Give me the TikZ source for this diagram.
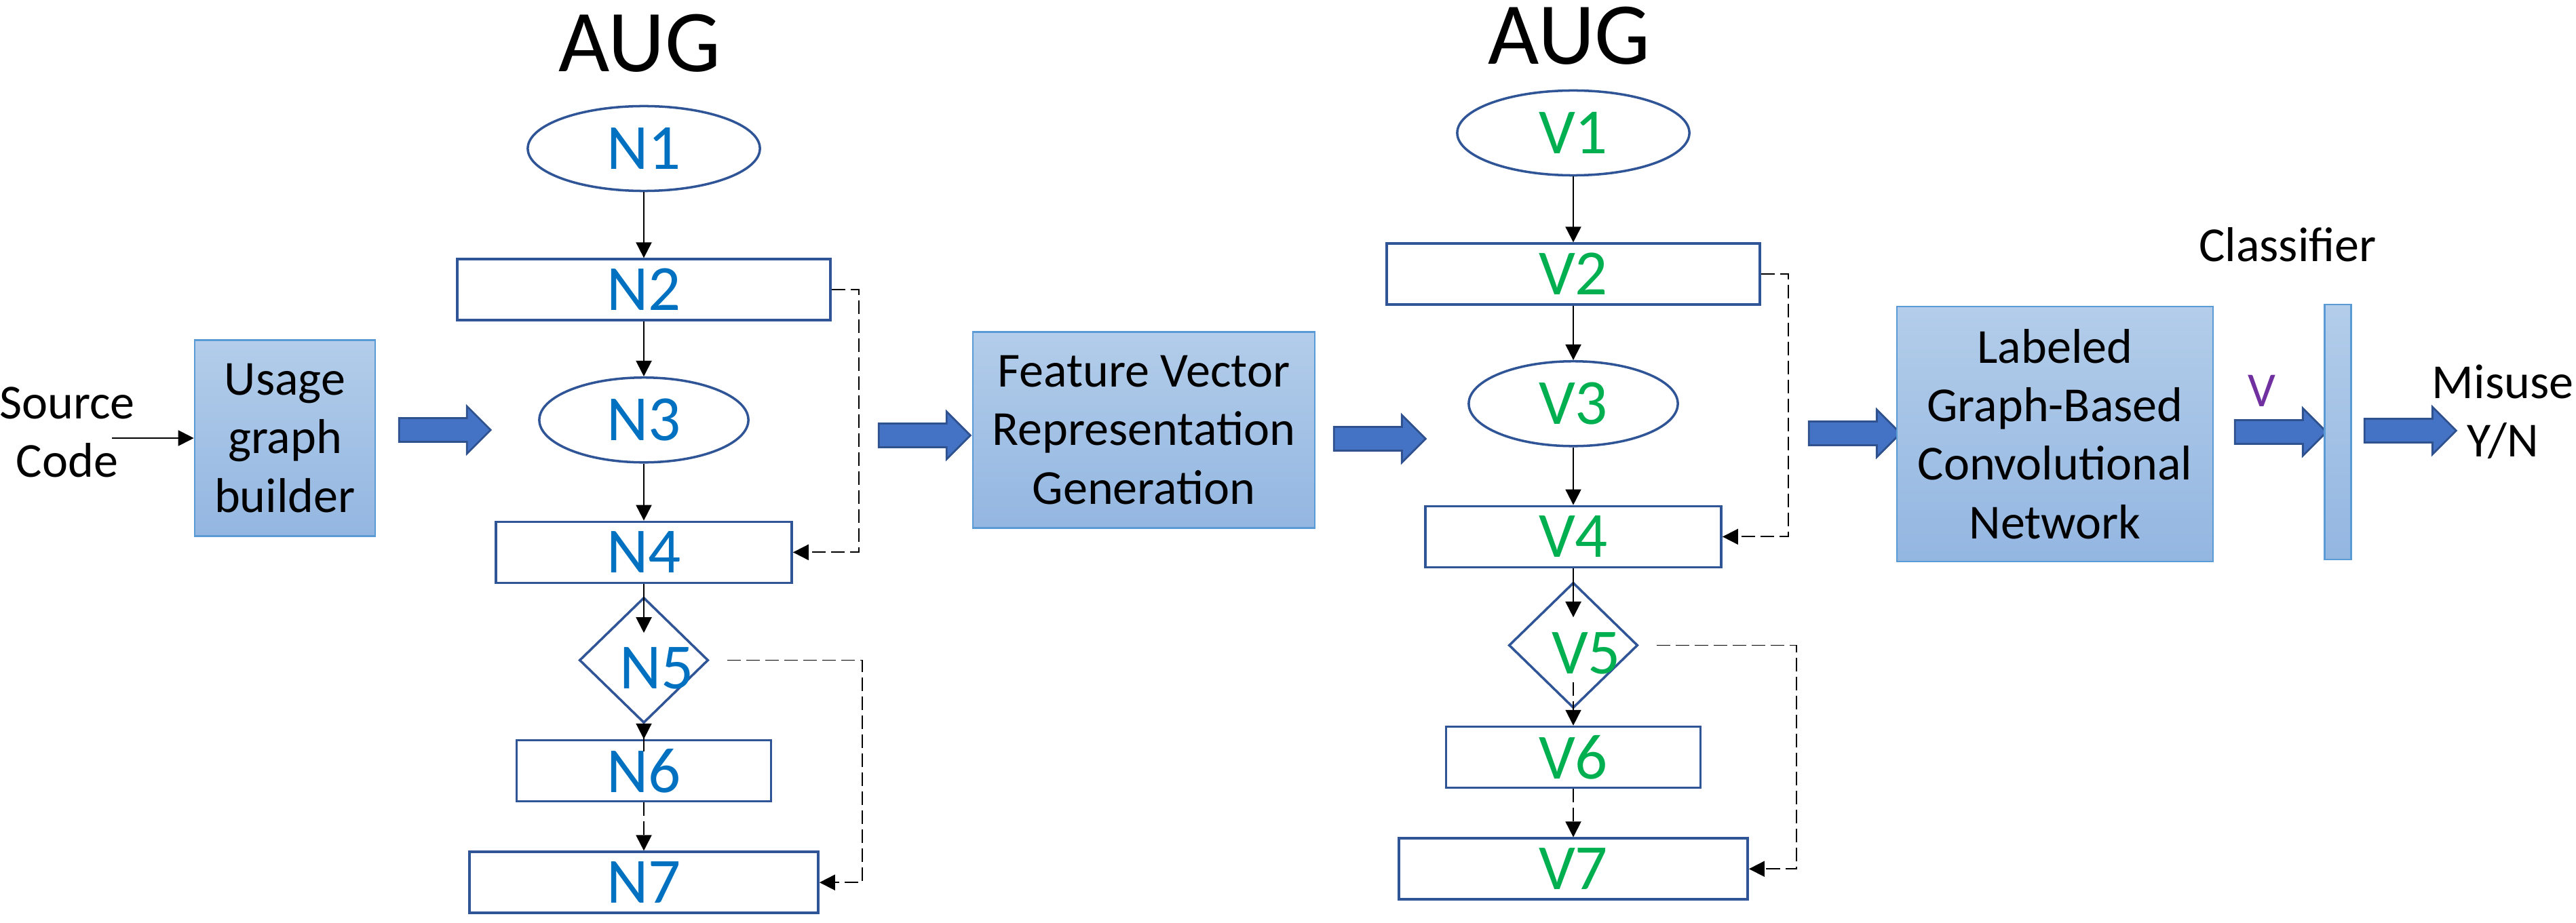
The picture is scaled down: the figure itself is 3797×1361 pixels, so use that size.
\documentclass[tikz,border=0pt]{standalone}
\usepackage{fontspec}
\setmainfont{Carlito}
\usepackage{xcolor}
\usepackage{tikz}
\usetikzlibrary{arrows.meta,positioning,shapes.geometric,shapes.arrows}

\definecolor{boxtop}{HTML}{B3CDEA}
\definecolor{boxbot}{HTML}{93B6E1}
\definecolor{boxline}{HTML}{5B9BD5}
\definecolor{graphline}{HTML}{2F5597}
\definecolor{arrowfill}{HTML}{4472C4}
\definecolor{arrowline}{HTML}{2F528F}
\definecolor{nblue}{HTML}{0070C0}
\definecolor{vgreen}{HTML}{00B050}
\definecolor{vpurple}{HTML}{7030A0}

\begin{document}
\begin{tikzpicture}[
    x=0.01cm, y=-0.01cm,
    txt/.style={
        font=\fontsize{20.5pt}{24.5pt}\selectfont,
        align=center,
        inner sep=0pt
    },
    stage/.style={
        txt,
        draw=boxline,
        line width=0.7pt,
        top color=boxtop,
        bottom color=boxbot
    },
    augtitle/.style={
        font=\fontsize{37pt}{44pt}\selectfont,
        anchor=base,
        inner sep=0pt
    },
    nlab/.style={
        inner sep=0pt,
        font=\fontsize{27pt}{32pt}\selectfont
    },
    gnode/.style={
        nlab,
        draw=graphline,
        line width=1pt
    },
    grect/.style={gnode, rectangle, minimum height=0.9cm},
    goval/.style={gnode, ellipse, minimum height=1.25cm},
    gdia/.style={gnode, diamond, minimum width=1.9cm, minimum height=1.85cm},
    bigarrow/.style={
        single arrow,
        draw=arrowline,
        line width=0.8pt,
        fill=arrowfill,
        inner sep=0pt,
        text height=0.16cm,
        text depth=0.16cm,
        single arrow head extend=0.175cm,
        minimum height=1.35cm
    },
    conn/.style={-{Triangle[length=0.23cm,width=0.23cm]}, line width=0.6pt},
    back/.style={conn, line width=0.55pt, dash pattern=on 0.2cm off 0.08cm}
]
\useasboundingbox (0,0) rectangle (3797,1361);

\node[txt] (src) at (99,637) {Source\\Code};
\node[stage, minimum width=2.66cm, minimum height=2.89cm] (ugb) at (420,646) {Usage\\graph\\builder};
\node[bigarrow] (a1) at (647,634) {};

\node[augtitle] (augn) at (943,106) {AUG};
\node[goval, minimum width=3.42cm, text=nblue] (n1) at (949,219) {N1};
\node[grect, minimum width=5.5cm, text=nblue, below=0.97cm of n1] (n2) {N2};
\node[goval, minimum width=3.08cm, text=nblue, below=0.81cm of n2] (n3) {N3};
\node[grect, minimum width=4.36cm, text=nblue, below=0.84cm of n3] (n4) {N4};
\node[gdia, below=0.18cm of n4] (n5) {};
\node[nlab, text=nblue] (n5t) at ([xshift=0.19cm,yshift=-0.12cm]n5.center) {N5};
\node[grect, minimum width=3.75cm, text=nblue, below=0.22cm of n5] (n6) {N6};
\node[grect, minimum width=5.14cm, text=nblue, below=0.71cm of n6] (n7) {N7};

\node[bigarrow] (a2) at (1354,642) {};
\node[stage, minimum width=5.04cm, minimum height=2.89cm] (fvg) at (1686,634) {Feature Vector\\Representation\\Generation};
\node[bigarrow] (a3) at (2025,647) {};

\node[augtitle] (augv) at (2313,95) {AUG};
\node[goval, minimum width=3.42cm, text=vgreen] (v1) at (2319,196) {V1};
\node[grect, minimum width=5.5cm, text=vgreen, below=0.97cm of v1] (v2) {V2};
\node[goval, minimum width=3.08cm, text=vgreen, below=0.8cm of v2] (v3) {V3};
\node[grect, minimum width=4.36cm, text=vgreen, below=0.85cm of v3] (v4) {V4};
\node[gdia, below=0.19cm of v4] (v5) {};
\node[nlab, text=vgreen] (v5t) at ([xshift=0.19cm,yshift=-0.12cm]v5.center) {V5};
\node[grect, minimum width=3.75cm, text=vgreen, below=0.24cm of v5] (v6) {V6};
\node[grect, minimum width=5.14cm, text=vgreen, below=0.71cm of v6] (v7) {V7};

\node[bigarrow] (a4) at (2725,639) {};
\node[stage, minimum width=4.66cm, minimum height=3.76cm] (gcn) at (3029,640) {Labeled\\Graph-Based\\Convolutional\\Network};
\node[txt, text=vpurple, anchor=base] (vec) at (3334,599) {V};
\node[bigarrow] (a5) at (3353,637) {};
\node[stage, minimum width=0.39cm, minimum height=3.76cm] (clf) at (3446,637) {};
\node[txt, anchor=base] (clft) at (3372,386) {Classifier};
\node[bigarrow] (a6) at (3544,635) {};
\node[txt] (out) at (3689,607) {Misuse\\Y/N};

\draw[conn, shorten <=-0.34cm] (src.east |- ugb.west) -- (ugb.west);

\draw[conn] (n1) -- (n2);
\draw[conn] (n2) -- (n3);
\draw[conn] (n3) -- (n4);
\draw[conn, shorten >=-0.54cm] (n4) -- (n5);
\draw[back, shorten <=-0.4cm] (n5) -- (n6);
\draw[back] (n6) -- (n7);
\draw[back] (n2.east) -- ++(0.4cm,0) |- (n4.east);
\draw[back, shorten <=0.26cm] (n5.east) -- ++(2.25cm,0) |- (n7.east);

\draw[conn] (v1) -- (v2);
\draw[conn] (v2) -- (v3);
\draw[conn] (v3) -- (v4);
\draw[conn, shorten >=-0.53cm] (v4) -- (v5);
\draw[back, shorten <=-0.4cm] (v5) -- (v6);
\draw[back] (v6) -- (v7);
\draw[back] (v2.east) -- ++(0.4cm,0) |- (v4.east);
\draw[back, shorten <=0.26cm] (v5.east) -- ++(2.32cm,0) |- (v7.east);

\end{tikzpicture}
\end{document}
